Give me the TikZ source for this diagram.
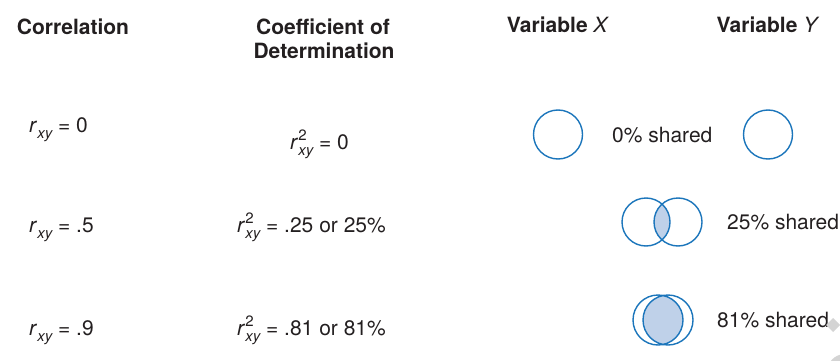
\documentclass[tikz,border=0pt]{standalone}
\usepackage{fontspec}
\setmainfont{TeX Gyre Heros}
\definecolor{ink}{HTML}{231F20}
\definecolor{ring}{HTML}{1B75BB}
\definecolor{lensblue}{HTML}{BFD1E9}
\definecolor{wmgrey}{HTML}{D4D4D4}
\newcommand{\subxy}{\raisebox{-6pt}{\fontsize{15}{15}\selectfont\itshape xy}}
\newcommand{\rxy}{\textit{r}\subxy}
\newcommand{\rsq}{\textit{r}\rlap{\raisebox{9pt}{\fontsize{15}{15}\selectfont 2}}\subxy}
\begin{document}
\begin{tikzpicture}[x=1pt,y=-1pt,
  txt/.style={inner sep=0pt,text=ink,font=\fontsize{21}{25}\selectfont},
  head/.style={txt,font=\fontsize{21}{25}\selectfont\bfseries,align=center},
  ven/.style={circle,draw=ring,line width=1.4pt,minimum size=48pt,inner sep=0pt}]
\useasboundingbox (0,0) rectangle (840,361);
% headers
\node[head,anchor=base] (h1) at (73,35) {Correlation};
\node[head,anchor=base] (h2) at (323,35) {Coefficient of};
\node[head,anchor=base] (h2b) at (324,59) {Determination};
\node[head,anchor=base] (h3) at (558,33) {Variable \textmd{\textit{X}}};
\node[head,anchor=base] (h4) at (768,33) {Variable \textmd{\textit{Y}}};
% left texts
\node[txt,anchor=base west] (c1) at (29,132) {\rxy\ = 0};
\node[txt,anchor=base west] (d1) at (290,149) {\rsq\ = 0};
\node[txt,anchor=base west] (c2) at (29,232) {\rxy\ = .5};
\node[txt,anchor=base west] (d2) at (237,232) {\rsq\ = .25 or 25\%};
\node[txt,anchor=base west] (c3) at (29,335) {\rxy\ = .9};
\node[txt,anchor=base west] (d3) at (237,335) {\rsq\ = .81 or 81\%};
% row 1
\node[ven,minimum size=49pt] (x1) at (558,134.5) {};
\node[ven,minimum size=49pt] (y1) at (768,134.5) {};
\node[txt,anchor=base west] (s1) at (612,142) {0\% shared};
% row 2
\begin{scope}
  \clip (646,222) circle (24);
  \fill[lensblue] (678,222) circle (24);
\end{scope}
\node[ven] (x2) at (646,222) {};
\node[ven] (y2) at (678,222) {};
\node[txt,anchor=base west] (s2) at (727,229) {25\% shared};
% row 3
\begin{scope}
  \clip (658,320) circle (25);
  \fill[lensblue] (668,320) circle (25);
\end{scope}
\node[ven,minimum size=50pt] (x3) at (658,320) {};
\node[ven,minimum size=50pt] (y3) at (668,320) {};
\node[txt,anchor=base west] (s3) at (717,327) {81\% shared};
% faint marks at the corner
\fill[wmgrey] (833,318) -- (840,325) -- (833,332) -- (826,325) -- cycle;
\fill[wmgrey] (845,372) circle (18);
\end{tikzpicture}
\end{document}
